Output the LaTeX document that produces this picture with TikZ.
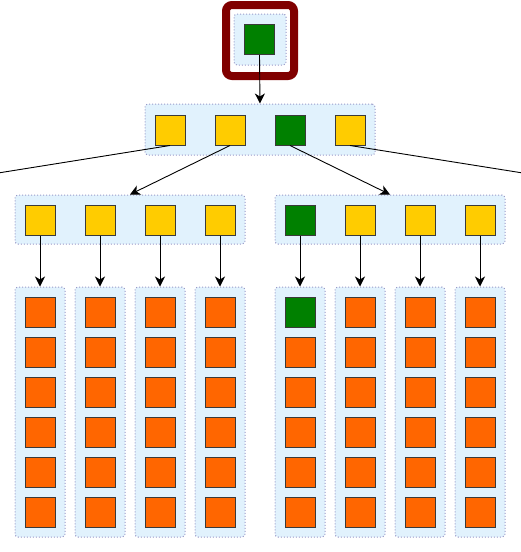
\documentclass[tikz,border=0pt]{standalone}
\usetikzlibrary{arrows.meta}
\definecolor{boxfill}{HTML}{E1F2FD}
\definecolor{boxline}{HTML}{9A9AC8}
\definecolor{yel}{HTML}{FFCC00}
\definecolor{grn}{HTML}{008000}
\definecolor{org}{HTML}{FF6600}
\definecolor{framec}{HTML}{800000}
\definecolor{sqline}{HTML}{3A3A3A}
\begin{document}
\begin{tikzpicture}[x=1pt,y=-1pt,
  grp/.style={draw=boxline, fill=boxfill, dotted, line width=1pt, rounded corners=3pt, inner sep=0pt},
  sq/.style={draw=sqline, line width=1pt, minimum size=30pt, inner sep=0pt},
  ysq/.style={sq, fill=yel},
  gsq/.style={sq, fill=grn},
  osq/.style={sq, fill=org},
  arr/.style={-{Stealth[length=10pt,width=10pt,inset=3pt]}, line width=0.9pt, black},
  ln/.style={line width=0.9pt, black}]
\useasboundingbox (0,0) rectangle (521,552);
% root frame
\node[draw=framec, line width=8pt, rounded corners=6pt, minimum width=68pt, minimum height=71pt, inner sep=0pt] (frame) at (260,40.5) {};
\node[grp, minimum width=52pt, minimum height=51pt] (rootbox) at (260,39.5) {};
\node[gsq] (root) at (259.5,39.5) {};
% level 1
\node[grp, minimum width=230pt, minimum height=51pt] (l1box) at (260,129.5) {};
\node[ysq] (a1) at (170,130) {};
\node[ysq] (a2) at (230,130) {};
\node[gsq] (a3) at (290,130) {};
\node[ysq] (a4) at (350,130) {};
% level 2
\node[grp, minimum width=230pt, minimum height=49pt] (l2L) at (130,219.5) {};
\node[grp, minimum width=230pt, minimum height=49pt] (l2R) at (390,219.5) {};
\foreach \i/\x in {1/40,2/100,3/160,4/220}{
  \node[ysq] (b\i) at (\x,220) {};
}
\node[gsq] (b5) at (300,220) {};
\foreach \i/\x in {6/360,7/420,8/480}{
  \node[ysq] (b\i) at (\x,220) {};
}
% level 3 columns
\foreach \i/\x in {1/40,2/100,3/160,4/220,5/300,6/360,7/420,8/480}{
  \node[grp, minimum width=50pt, minimum height=250pt] (c\i) at (\x,412) {};
  \foreach \j/\y in {1/312,2/352,3/392,4/432,5/472,6/512}{
    \node[osq] (s\i\j) at (\x,\y) {};
  }
}
\node[gsq] (s51g) at (300,312) {};
% connectors
\coordinate (offL) at (0,172.7);
\coordinate (offR) at (521,172.7);
\draw[arr] (root.south) -- (l1box.north);
\draw[ln] (a1.south) -- (offL);
\draw[ln] (a4.south) -- (offR);
\draw[arr] (a2.south) -- (l2L.north);
\draw[arr] (a3.south) -- (l2R.north);
\foreach \i in {1,...,8}{
  \draw[arr] (b\i.south) -- (c\i.north);
}
\end{tikzpicture}
\end{document}
